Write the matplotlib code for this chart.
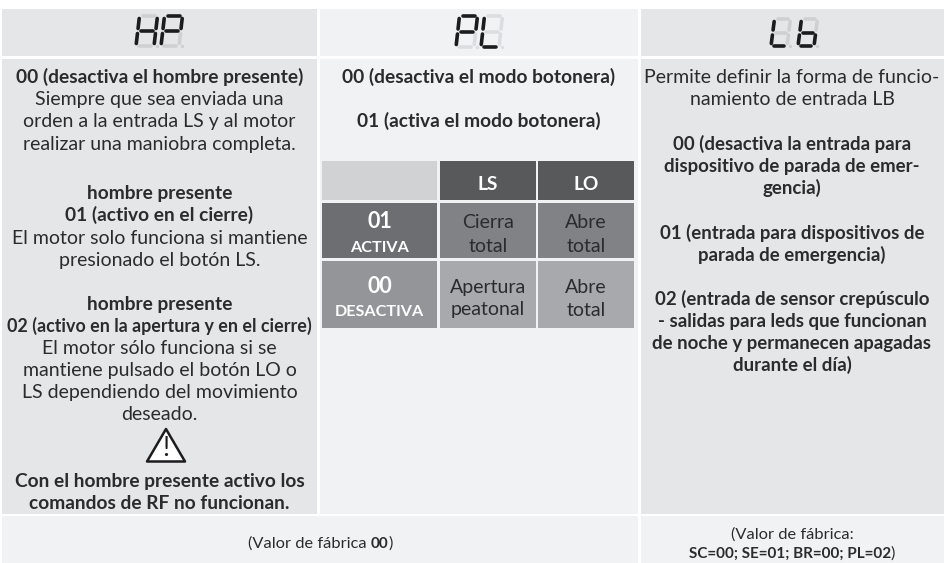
import matplotlib
matplotlib.use("Agg")
import matplotlib.pyplot as plt
from matplotlib.patches import Rectangle, Polygon

## page size in px, everything below is in px with y going down
W, H = 944, 563
FONT = "Lato"
FS_REG = 14.0
FS_BOLD = 13.8
FS_BOLD_COL3 = 13.4
FS_LONG = 12.9  # the long "02 (activo..." line is set tighter
DARK = "#2b2b2d"

# column bands
col_x = [(2, 317), (320, 638), (640.5, 944)]
head_y = (9, 56)
body_y = (59, 514)
foot_y = (516, 563)
col_colors = ["#e5e6e8", "#f1f2f4", "#e5e6e8"]
foot_color = "#f1f2f4"

# text lines: (text, bold, y of baseline)
col1_lines = [
    ("00 (desactiva el hombre presente)", True, 83),
    ("Siempre que sea enviada una", False, 105),
    ("orden a la entrada LS y al motor", False, 127),
    ("realizar una maniobra completa.", False, 150),
    ("hombre presente", True, 199),
    ("01 (activo en el cierre)", True, 221),
    ("El motor solo funciona si mantiene", False, 244),
    ("presionado el botón LS.", False, 266),
    ("hombre presente", True, 310),
    ("02 (activo en la apertura y en el cierre)", True, 332),
    ("El motor sólo funciona si se", False, 354),
    ("mantiene pulsado el botón LO o", False, 376),
    ("LS dependiendo del movimiento", False, 398),
    ("deseado.", False, 420),
    ("Con el hombre presente activo los", True, 487),
    ("comandos de RF no funcionan.", True, 509),
]
col2_lines = [
    ("00 (desactiva el modo botonera)", True, 83),
    ("01 (activa el modo botonera)", True, 127),
]
col3_lines = [
    ("Permite definir la forma de funcio-", False, 83),
    ("namiento de entrada LB", False, 105),
    ("00 (desactiva la entrada para", True, 150),
    ("dispositivo de parada de emer-", True, 172),
    ("gencia)", True, 194),
    ("01 (entrada para dispositivos de", True, 239),
    ("parada de emergencia)", True, 261),
    ("02 (entrada de sensor crepúsculo", True, 305),
    ("- salidas para leds que funcionan", True, 327),
    ("de noche y permanecen apagadas", True, 349),
    ("durante el día)", True, 371),
]

# inner table
table_x = [(322, 437), (440, 536), (538, 634)]
table_y = [(161, 200), (203, 258), (261, 328)]
table_colors = [
    ["#d1d2d4", "#58595b", "#58595b"],
    ["#6d6e71", "#808285", "#808285"],
    ["#939598", "#a7a9ac", "#a7a9ac"],
]
table_heads = ["LS", "LO"]
row_labels = [("01", "ACTIVA"), ("00", "DESACTIVA")]
table_cells = [[("Cierra", "total"), ("Abre", "total")],
               [("Apertura", "peatonal"), ("Abre", "total")]]
row_base = [(228.5, 251.5), (293, 315.5)]

# 7 segment displays: left x, top y, width, height, lit segments
displays = [
    (136, 16, 18, 30, "bcefg"),
    (161, 16, 18, 30, "abefg"),
    (456, 16, 18, 31, "abefg"),
    (481, 16, 18, 31, "def"),
    (771, 19, 16, 27, "def"),
    (798, 19, 16, 27, "cdefg"),
]
ghost_colors = ["#cfd0d2", "#cfd0d2", "#dcdde0", "#dcdde0", "#cfd0d2", "#cfd0d2"]


def px_rect(ax, x0, x1, y0, y1, color):
    ax.add_patch(Rectangle((x0, y0), x1 - x0, y1 - y0, fc=color, ec="none"))


def seg_lines(x, y, w, h):
    # slanted segment centre lines, slant goes right with height
    sl = 3.5

    def sk(px, py):
        return (x + px + sl * (1 - py / h), y + py)

    m = h / 2
    return {
        "a": (sk(3, 0), sk(w - 3, 0)),
        "b": (sk(w, 2.5), sk(w, m - 2.5)),
        "c": (sk(w, m + 2.5), sk(w, h - 2.5)),
        "d": (sk(3, h), sk(w - 3, h)),
        "e": (sk(0, m + 2.5), sk(0, h - 2.5)),
        "f": (sk(0, 2.5), sk(0, m - 2.5)),
        "g": (sk(3, m), sk(w - 3, m)),
    }


def mixed_text(ax, fig, cx, y, runs):
    # runs of (text, bold, size), centred as a group on cx
    r = fig.canvas.get_renderer()
    items = [ax.text(0, y, s, ha="left", va="baseline", fontsize=fs, family=FONT,
                     weight="bold" if b else "normal", color=DARK) for s, b, fs in runs]
    widths = [t.get_window_extent(r).width for t in items]
    x = cx - sum(widths) / 2
    for t, w in zip(items, widths):
        t.set_x(x)
        x += w


fig = plt.figure(figsize=(W / 100, H / 100), dpi=100)
ax = fig.add_axes([0, 0, 1, 1])
ax.set_xlim(0, W)
ax.set_ylim(H, 0)
ax.axis("off")

for (x0, x1), c in zip(col_x, col_colors):
    px_rect(ax, x0, x1, *head_y, c)
    px_rect(ax, x0, x1, *body_y, c)
px_rect(ax, 2, col_x[1][1], *foot_y, foot_color)
px_rect(ax, col_x[2][0], col_x[2][1], *foot_y, foot_color)

## seven segment headers
for (x, y, w, h, lit), ghost in zip(displays, ghost_colors):
    for name, (p0, p1) in seg_lines(x, y, w, h).items():
        on = name in lit
        ax.plot([p0[0], p1[0]], [p0[1], p1[1]], color="#1c1c1e" if on else ghost, lw=2.6,
                solid_capstyle="round", zorder=3 if on else 2)
    ax.plot([x + w + 3], [y + h], "o", ms=2.5, color=ghost, mec="none")

for lines, cx, fs_bold in [(col1_lines, 159.5, FS_BOLD), (col2_lines, 479, FS_BOLD), (col3_lines, 792, FS_BOLD_COL3)]:
    for txt, bold, y in lines:
        fs = fs_bold if bold else FS_REG
        if txt.startswith("02 (activo"):
            fs = FS_LONG
        ax.text(cx, y, txt, ha="center", va="baseline", fontsize=fs,
                family=FONT, weight="bold" if bold else "normal", color=DARK)

## table
for r, (y0, y1) in enumerate(table_y):
    for c, (x0, x1) in enumerate(table_x):
        px_rect(ax, x0, x1, y0, y1, table_colors[r][c])
for c, lab in enumerate(table_heads):
    x0, x1 = table_x[c + 1]
    ax.text((x0 + x1) / 2, 190.5, lab, ha="center", va="baseline", fontsize=FS_BOLD, family=FONT,
            weight="bold", color="white")
for r, (num, word) in enumerate(row_labels):
    b1, b2 = row_base[r]
    cx = sum(table_x[0]) / 2
    ax.text(cx, b1, num, ha="center", va="baseline", fontsize=15.5, family=FONT, weight="bold", color="white")
    ax.text(cx, b2, word, ha="center", va="baseline", fontsize=11.6, family=FONT, weight="bold", color="white")
    for c, (l1, l2) in enumerate(table_cells[r]):
        x0, x1 = table_x[c + 1]
        ax.text((x0 + x1) / 2, b1, l1, ha="center", va="baseline", fontsize=FS_REG, family=FONT, color=DARK)
        ax.text((x0 + x1) / 2, b2, l2, ha="center", va="baseline", fontsize=FS_REG, family=FONT, color=DARK)

## warning triangle
ax.add_patch(Polygon([(166, 429), (147, 461.5), (185, 461.5)], closed=True, fc="white", ec="#1c1c1e", lw=1.8, joinstyle="round"))
ax.text(166, 456, "!", ha="center", va="baseline", fontsize=19, family=FONT, color="#1c1c1e")

## footers
fig.canvas.draw()
mixed_text(ax, fig, 320, 548, [("(Valor de fábrica\u00a0", False, 11.8), ("00", True, 11), (")", False, 11.8)])
mixed_text(ax, fig, 792, 539, [("(Valor de fábrica:", False, 11.8)])
mixed_text(ax, fig, 792, 558, [("SC=00; SE=01; BR=00; PL=02", True, 11), (")", False, 11.8)])

fig.savefig("out.png", dpi=100)
